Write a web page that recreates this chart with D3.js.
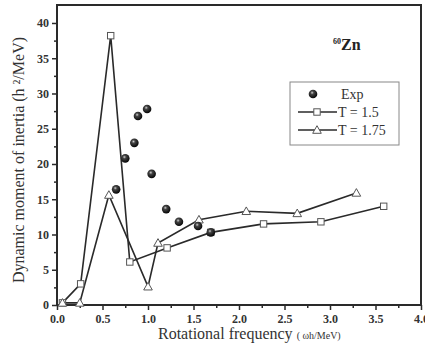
<!DOCTYPE html>
<html>
<head>
<meta charset="utf-8">
<script src="https://cdn.jsdelivr.net/npm/d3@7"></script>
<style>
  body { margin: 0; background: #fff; }
  svg { display: block; font-family: "Liberation Serif", "DejaVu Serif", serif; }
  .tick text { font-weight: bold; font-size: 12px; fill: #333; }
  .domain { display: none; }
</style>
</head>
<body>
<svg id="chart" width="425" height="347"></svg>
<script>
// Rotational frequency (hw, MeV) vs dynamic moment of inertia
var expX  = [0.65, 0.75, 0.85, 0.89, 0.99, 1.04, 1.20, 1.34, 1.55, 1.69];
var expY  = [16.4, 20.8, 23.0, 26.8, 27.8, 18.6, 13.6, 11.8, 11.2, 10.3];

var t15X  = [0.06, 0.26, 0.59, 0.80, 1.21, 1.69, 2.27, 2.90, 3.59];
var t15Y  = [0.3, 3.0, 38.2, 6.1, 8.1, 10.3, 11.5, 11.8, 14.0];

var t175X = [0.06, 0.25, 0.57, 1.00, 1.11, 1.56, 2.08, 2.64, 3.29];
var t175Y = [0.3, 0.3, 15.6, 2.6, 8.8, 12.1, 13.3, 13.0, 15.9];

var xTicks = [0, 0.5, 1, 1.5, 2, 2.5, 3, 3.5, 4];
var yTicks = [0, 5, 10, 15, 20, 25, 30, 35, 40];
var legendLabels = ["Exp", "T = 1.5", "T = 1.75"];

var svg = d3.select("#chart");
var pLeft = 57, pRight = 421, pTop = 5, pBottom = 305;

var x = d3.scaleLinear().domain([0, 4]).range([pLeft, pRight]);
var y = d3.scaleLinear().domain([0, 42.55]).range([pBottom, pTop]);

var ink = "#2a2a2a";

// sphere gradient for experimental points
var defs = svg.append("defs");
var grad = defs.append("radialGradient").attr("id", "ball")
    .attr("cx", "40%").attr("cy", "35%").attr("r", "65%");
grad.append("stop").attr("offset", "0%").attr("stop-color", "#d0d0d0");
grad.append("stop").attr("offset", "30%").attr("stop-color", "#444");
grad.append("stop").attr("offset", "100%").attr("stop-color", "#050505");

// axes
svg.append("g").attr("transform", "translate(0," + pBottom + ")")
    .call(d3.axisBottom(x).tickValues(xTicks).tickFormat(d3.format(".1f")).tickSize(5).tickPadding(4));
svg.append("g").attr("transform", "translate(0," + pBottom + ")")
    .call(d3.axisBottom(x).tickValues(d3.range(0.25, 4, 0.5)).tickFormat("").tickSize(3));
svg.append("g").attr("transform", "translate(" + pLeft + ",0)")
    .call(d3.axisLeft(y).tickValues(yTicks).tickSize(5).tickPadding(3));
svg.append("g").attr("transform", "translate(" + pLeft + ",0)")
    .call(d3.axisLeft(y).tickValues(d3.range(2.5, 42, 5)).tickFormat("").tickSize(3));
svg.selectAll("g").attr("font-family", null).attr("font-size", null);
svg.selectAll(".tick line").attr("stroke", ink).attr("stroke-width", 1.5);

// frame
svg.append("rect")
    .attr("x", pLeft).attr("y", pTop)
    .attr("width", pRight - pLeft).attr("height", pBottom - pTop)
    .attr("fill", "none").attr("stroke", ink).attr("stroke-width", 2);

var line = d3.line().x(function(d) { return x(d[0]); }).y(function(d) { return y(d[1]); });
var t15  = t15X.map(function(v, i) { return [v, t15Y[i]]; });
var t175 = t175X.map(function(v, i) { return [v, t175Y[i]]; });

svg.append("path").attr("d", line(t15)).attr("fill", "none").attr("stroke", ink).attr("stroke-width", 1.6);
svg.append("path").attr("d", line(t175)).attr("fill", "none").attr("stroke", ink).attr("stroke-width", 1.6);

function square(g, cx, cy) {
  g.append("rect").attr("x", cx - 3.2).attr("y", cy - 3.2).attr("width", 6.4).attr("height", 6.4)
    .attr("fill", "#fff").attr("stroke", "#555").attr("stroke-width", 1);
}
function triangle(g, cx, cy) {
  g.append("path").attr("d", "M" + cx + "," + (cy - 4.3) + "L" + (cx + 4.3) + "," + (cy + 3.3) + "L" + (cx - 4.3) + "," + (cy + 3.3) + "Z")
    .attr("fill", "#fff").attr("stroke", "#555").attr("stroke-width", 1);
}
function ball(g, cx, cy) {
  g.append("circle").attr("cx", cx).attr("cy", cy).attr("r", 4.3).attr("fill", "url(#ball)");
}

var marks = svg.append("g");
t15.forEach(function(d) { square(marks, x(d[0]), y(d[1])); });
t175.forEach(function(d) { triangle(marks, x(d[0]), y(d[1])); });
expX.forEach(function(v, i) { ball(marks, x(v), y(expY[i])); });

// legend
var lg = svg.append("g");
lg.append("rect").attr("x", 290).attr("y", 82).attr("width", 109).attr("height", 63)
    .attr("fill", "#fff").attr("stroke", "#888").attr("stroke-width", 1);
ball(lg, 313, 94);
lg.append("line").attr("x1", 298).attr("x2", 337).attr("y1", 112).attr("y2", 112).attr("stroke", ink).attr("stroke-width", 1.6);
square(lg, 317, 112);
lg.append("line").attr("x1", 298).attr("x2", 337).attr("y1", 130).attr("y2", 130).attr("stroke", ink).attr("stroke-width", 1.6);
triangle(lg, 317, 130);
lg.selectAll("text.leg").data(legendLabels).enter().append("text")
    .attr("class", "leg")
    .attr("x", function(d, i) { return i === 0 ? 341 : 338; })
    .attr("y", function(d, i) { return 99 + i * 18; })
    .attr("font-size", 14).attr("fill", "#333")
    .text(function(d) { return d; });

// nucleus label
var nuc = svg.append("text").attr("x", 333).attr("y", 50).attr("fill", "#222");
nuc.append("tspan").attr("font-size", 8).attr("font-weight", "bold").attr("dy", -6).text("60");
nuc.append("tspan").attr("font-size", 16).attr("font-weight", "bold").attr("dy", 6).text("Zn");

// axis titles
var xt = svg.append("text").attr("x", 158).attr("y", 339).attr("fill", "#333").attr("font-size", 16);
xt.append("tspan").text("Rotational frequency ");
xt.append("tspan").attr("font-size", 10).text("( ωh/MeV)");

svg.append("text")
    .attr("transform", "translate(24," + ((pTop + pBottom) / 2 + 5) + ") rotate(-90)")
    .attr("text-anchor", "middle").attr("font-size", 16).attr("fill", "#333")
    .text("Dynamic moment of inertia  (h ²/MeV)");
</script>
</body>
</html>
